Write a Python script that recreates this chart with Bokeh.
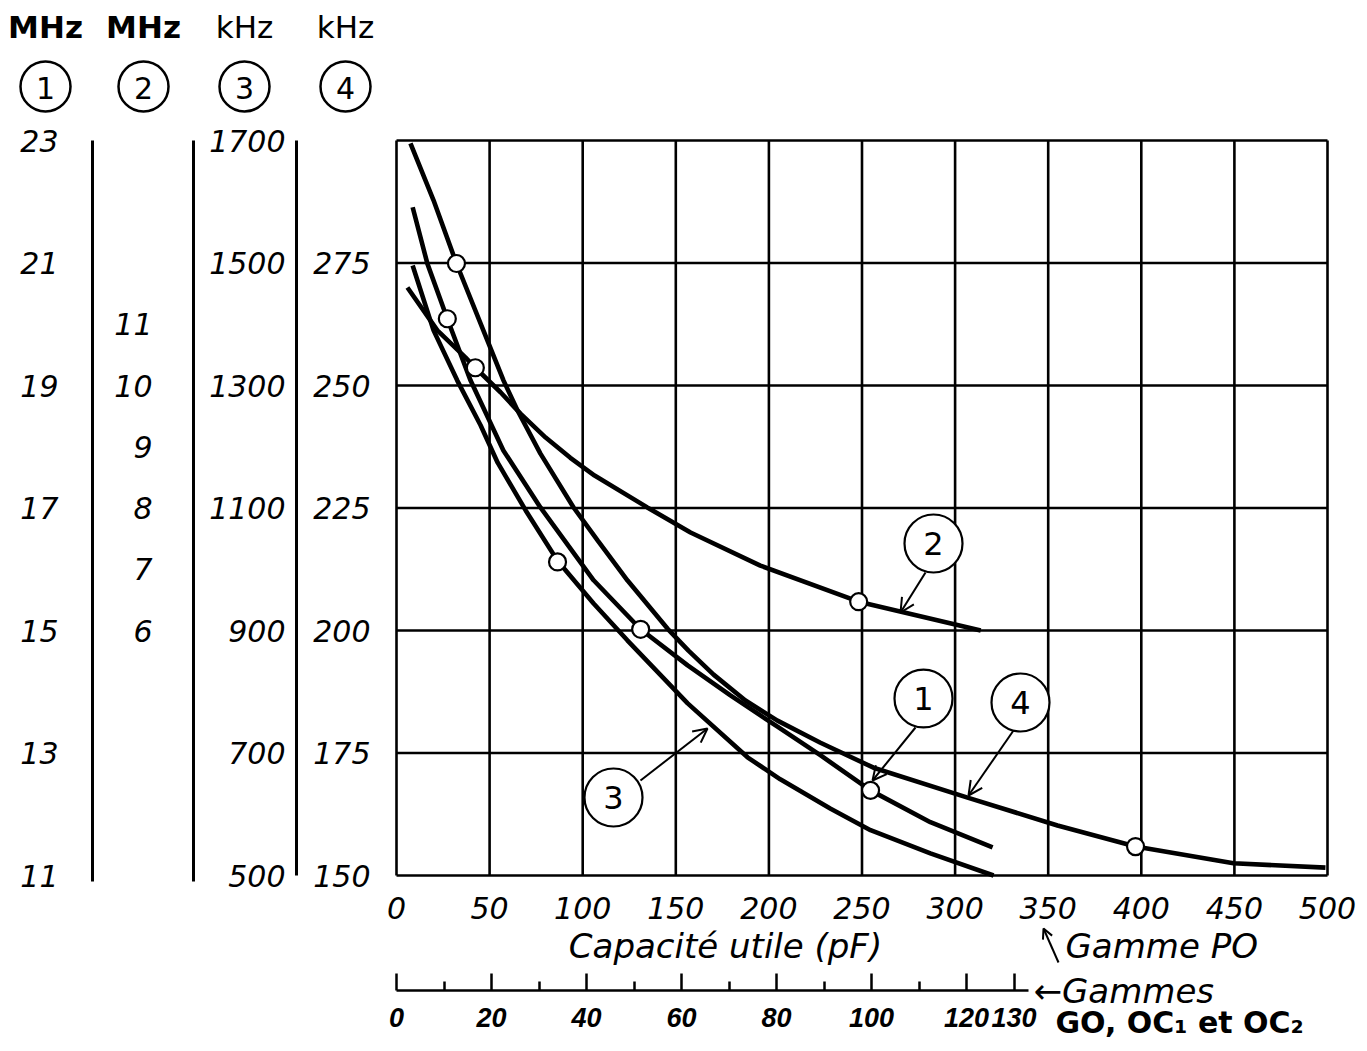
from bokeh.plotting import figure
from bokeh.models import Range1d, LinearAxis, FixedTicker, Label, Arrow, OpenHead
from bokeh.core.properties import value
from bokeh.embed import file_html
from bokeh.resources import INLINE

# ---------------- data ----------------
PO_TICKS = [0, 50, 100, 150, 200, 250, 300, 350, 400, 450, 500]
GO_TICKS = [0, 20, 40, 60, 80, 100, 120, 130]
GO_MINOR = [10, 30, 50, 70, 90, 110]
MHZ1_TICKS = [11, 13, 15, 17, 19, 21, 23]
MHZ2_TICKS = [6, 7, 8, 9, 10, 11]
KHZ3_TICKS = [500, 700, 900, 1100, 1300, 1500, 1700]
KHZ4_TICKS = [150, 175, 200, 225, 250, 275]

# curve 1 : GO/OC scale (pF) vs MHz (scale 1)
c1_pf = [3.4, 6.5, 10.7, 15.6, 22.5, 30.3, 41.5, 51.4, 61.3, 70.3, 80.2, 89.3, 99.8, 112.4, 125.5]
c1_f = [21.91, 20.99, 20.09, 19.08, 17.94, 17.01, 15.82, 15.02, 14.43, 13.94, 13.43, 12.96, 12.39, 11.87, 11.46]
c1_pts_pf = [10.7, 51.4, 99.8]
c1_pts_f = [20.09, 15.02, 12.39]

# curve 2 : GO/OC scale (pF) vs MHz (scale 2)
c2_pf = [2.3, 8.6, 14.5, 16.6, 21.9, 26.1, 31.4, 36.6, 41.7, 52.8, 61.9, 76.6, 97.3, 123.0]
c2_f = [11.60, 10.90, 10.46, 10.29, 9.89, 9.54, 9.15, 8.82, 8.53, 8.01, 7.60, 7.06, 6.47, 6.00]
c2_pts_pf = [16.6, 97.3]
c2_pts_f = [10.29, 6.47]

# curve 3 : GO/OC scale (pF) vs kHz (scale 3)
c3_pf = [3.4, 7.8, 12.8, 17.7, 21.3, 27.2, 33.9, 41.5, 48.6, 61.3, 73.9, 80.8, 91.4, 99.8, 112.4, 125.7]
c3_f = [1496, 1390, 1308, 1235, 1174, 1096, 1014, 944, 884, 781, 693, 657, 609, 574, 536, 500]
c3_pts_pf = [33.9]
c3_pts_f = [1012]

# curve 4 : PO scale (pF) vs kHz (scale 4)
c4_pf = [7.5, 19.9, 32.2, 46.7, 57.5, 65.0, 77.3, 95.1, 108.0, 124.1, 145.5, 156.8, 170.3,
         187.4, 204.6, 227.7, 256.2, 306.7, 355.0, 396.9, 449.5, 498.9]
c4_f = [299.4, 287.8, 274.9, 261.2, 251.0, 244.9, 236.1, 225.1, 218.4, 210.2, 200.4, 195.9,
        191.0, 185.7, 181.6, 177.1, 172.0, 165.9, 160.2, 155.9, 152.5, 151.6]
c4_pts_pf = [32.2, 396.9]
c4_pts_f = [274.9, 155.9]

CURVE_NAMES = ["1", "2", "3", "4"]
HEAD_UNITS = ["MHz", "MHz", "kHz", "kHz"]

# ---------------- layout geometry (pixels) ----------------
W, H = 1367, 1051
FX0, FX1 = 396, 1327      # chart left / right
FY0, FY1 = 140, 875       # chart top / bottom
PO_MAX = 500.0
GO_MAX = 196.0            # GO scale value at the right edge of the chart


def xrange_for(v0, v1):
    k = (v1 - v0) / (FX1 - FX0)
    return Range1d(v0 - FX0 * k, v1 + (W - FX1) * k)


def yrange_for(v_bottom, v_top):
    k = (v_top - v_bottom) / (FY1 - FY0)
    return Range1d(v_bottom - (H - FY1) * k, v_top + FY0 * k)


xr = xrange_for(0, PO_MAX)
yr = yrange_for(11, 23)


def xr_px(px):
    return xr.start + px * (xr.end - xr.start) / W


def yr_px(py):
    return yr.end - py * (yr.end - yr.start) / H


FONT = "DejaVu Sans"
p = figure(width=W, height=H, x_range=xr, y_range=yr,
           x_axis_type=None, y_axis_type=None,
           output_backend="svg", toolbar_location=None, min_border=0,
           outline_line_color=None,
           background_fill_color="white", border_fill_color="white")

p.extra_x_ranges = {"go": xrange_for(0, GO_MAX)}
p.extra_y_ranges = {"mhz2": yrange_for(2, 14), "khz3": yrange_for(500, 1700),
                    "khz4": yrange_for(150, 300)}

# chart grid (lines at the tick values, spanning the chart)
GRID = dict(line_color="black", line_width=2.6)
p.segment(x0=PO_TICKS, y0=[MHZ1_TICKS[0]] * len(PO_TICKS),
          x1=PO_TICKS, y1=[MHZ1_TICKS[-1]] * len(PO_TICKS), **GRID)
p.segment(x0=[PO_TICKS[0]] * len(MHZ1_TICKS), y0=MHZ1_TICKS,
          x1=[PO_TICKS[-1]] * len(MHZ1_TICKS), y1=MHZ1_TICKS, **GRID)

TICKFONT = dict(major_label_text_font=FONT, major_label_text_font_size="30px",
                major_label_text_font_style="italic", major_label_text_color="black")
GOFONT = dict(major_label_text_font="Liberation Sans", major_label_text_font_size="27px",
              major_label_text_font_style="bold italic", major_label_text_color="black")


def left_axis(rng, ticks, line_px, standoff, bounds):
    kw = {}
    if rng is not None:
        kw["y_range_name"] = rng
    ax = LinearAxis(ticker=FixedTicker(ticks=ticks), fixed_location=xr_px(line_px),
                    bounds=bounds, **kw)
    ax.axis_line_width = 3
    ax.axis_line_color = "black"
    ax.major_tick_in = 0
    ax.major_tick_out = 0
    ax.minor_tick_in = 0
    ax.minor_tick_out = 0
    ax.major_label_standoff = standoff
    for k, v in TICKFONT.items():
        setattr(ax, k, v)
    return ax


ax4 = left_axis("khz4", KHZ4_TICKS, FX0, 26, (150, 300))
ax4.axis_line_color = None
ax3 = left_axis("khz3", KHZ3_TICKS, 296, 11, (500, 1700))
ax2 = left_axis("mhz2", MHZ2_TICKS, 193, 41, (1.9, 14.0))
ax1 = left_axis(None, MHZ1_TICKS, 92, 34, (10.9, 23.0))
for ax in (ax4, ax3, ax2, ax1):
    p.add_layout(ax, "left")

# bottom axes
po_ax = LinearAxis(ticker=FixedTicker(ticks=PO_TICKS), fixed_location=11)
po_ax.axis_line_color = None
po_ax.major_tick_in = 0
po_ax.major_tick_out = 0
po_ax.minor_tick_in = 0
po_ax.minor_tick_out = 0
po_ax.major_label_standoff = 21
for k, v in TICKFONT.items():
    setattr(po_ax, k, v)
p.add_layout(po_ax, "below")

go_ax = LinearAxis(x_range_name="go", ticker=FixedTicker(ticks=GO_TICKS, minor_ticks=GO_MINOR),
                   fixed_location=yr_px(990), bounds=(0, 133))
go_ax.axis_line_width = 2.5
go_ax.major_tick_in = 17
go_ax.major_tick_out = 0
go_ax.minor_tick_in = 9
go_ax.minor_tick_out = 0
go_ax.major_tick_line_width = 2.5
go_ax.minor_tick_line_width = 2.5
go_ax.major_label_standoff = 17
for k, v in GOFONT.items():
    setattr(go_ax, k, v)
p.add_layout(go_ax, "below")

# curves
LW = 4.6
p.line(c1_pf, c1_f, x_range_name="go", line_width=LW, line_color="black")
p.line(c2_pf, c2_f, x_range_name="go", y_range_name="mhz2", line_width=LW, line_color="black")
p.line(c3_pf, c3_f, x_range_name="go", y_range_name="khz3", line_width=LW, line_color="black")
p.line(c4_pf, c4_f, y_range_name="khz4", line_width=LW, line_color="black")

MK = dict(marker="circle", size=17, fill_color="white", line_color="black", line_width=2.2)
p.scatter(c1_pts_pf, c1_pts_f, x_range_name="go", **MK)
p.scatter(c2_pts_pf, c2_pts_f, x_range_name="go", y_range_name="mhz2", **MK)
p.scatter(c3_pts_pf, c3_pts_f, x_range_name="go", y_range_name="khz3", **MK)
p.scatter(c4_pts_pf, c4_pts_f, y_range_name="khz4", **MK)

# circled curve labels inside the chart (pixel layout positions)
lab_px = [(923, 698), (933, 543), (613, 797), (1020, 702)]
lab_x = [xr_px(a) for a, b in lab_px]
lab_y = [yr_px(b) for a, b in lab_px]
p.scatter(lab_x, lab_y, marker="circle", size=58, fill_color="white", line_color="black", line_width=2.2)
p.text(lab_x, lab_y, text=CURVE_NAMES, text_align="center", text_baseline="middle",
       text_font=value(FONT), text_font_size="32px", text_color="black")

arrows_px = [((915, 727), (872, 780)), ((925, 572), (900, 612)),
             ((640, 780), (707, 728)), ((1013, 730), (968, 795))]
for (xs, ys), (xe, ye) in arrows_px:
    p.add_layout(Arrow(x_start=xr_px(xs), y_start=yr_px(ys), x_end=xr_px(xe), y_end=yr_px(ye),
                       line_width=2, end=OpenHead(size=14, line_width=2)))

# headers above the left scales
head_px = [45, 143, 244, 345]
hx = [xr_px(a) for a in head_px]
for x, unit in zip(hx, HEAD_UNITS):
    p.add_layout(Label(x=x, y=yr_px(26), text=unit, text_align="center", text_baseline="middle",
                       text_font=FONT, text_font_size="31px", text_color="black",
                       text_font_style="bold" if unit == "MHz" else "normal"))
p.scatter(hx, [yr_px(86)] * 4, marker="circle", size=50, fill_color="white",
          line_color="black", line_width=2.5)
p.text(hx, [yr_px(87)] * 4, text=CURVE_NAMES, text_align="center", text_baseline="middle",
       text_font=value(FONT), text_font_size="30px", text_color="black")

# bottom captions
CAP = dict(text_baseline="middle", text_font=FONT, text_font_size="34px", text_font_style="italic",
           text_color="black")
p.add_layout(Label(x=xr_px(725), y=yr_px(945), text="Capacité utile (pF)", text_align="center", **CAP))
p.add_layout(Label(x=xr_px(1065), y=yr_px(945), text="Gamme PO", text_align="left", **CAP))
p.add_layout(Arrow(x_start=xr_px(1058), y_start=yr_px(962), x_end=xr_px(1043), y_end=yr_px(928),
                   line_width=2, end=OpenHead(size=10, line_width=2)))
p.add_layout(Label(x=xr_px(1033), y=yr_px(990), text="←Gammes", text_align="left", **CAP))
p.add_layout(Label(x=xr_px(1055), y=yr_px(1022), text="GO, OC₁ et OC₂", text_align="left",
                   text_baseline="middle", text_font=FONT, text_font_size="30px",
                   text_font_style="bold", text_color="black"))

open("out.html", "w").write(file_html(p, INLINE))
